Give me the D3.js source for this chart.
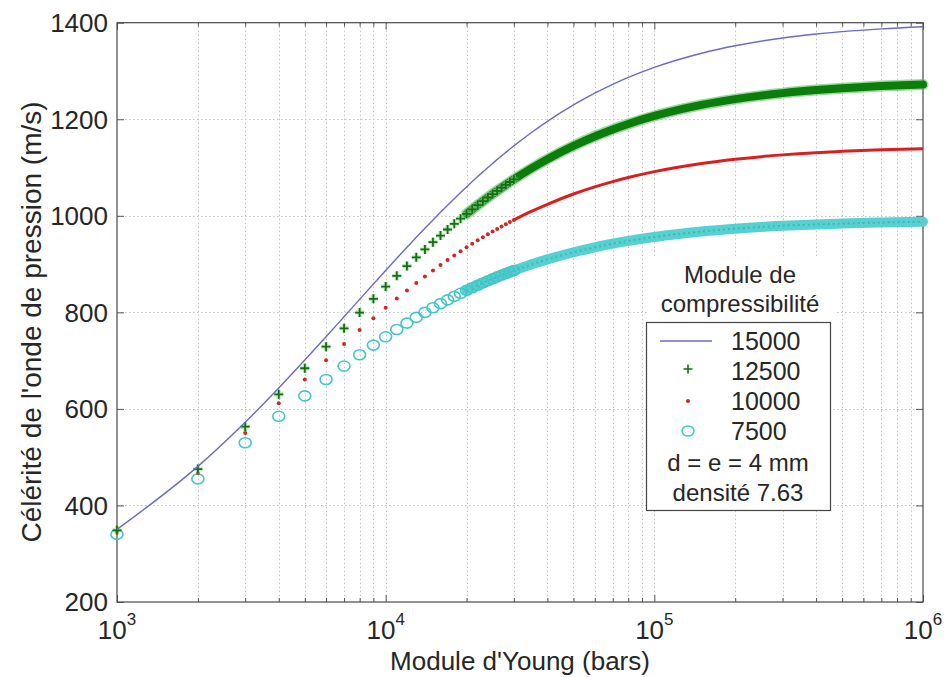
<!DOCTYPE html>
<html>
<head>
<meta charset="utf-8">
<script src="https://cdn.jsdelivr.net/npm/d3@7"></script>
<style>
  html, body { margin: 0; padding: 0; background: #fff; }
  svg { display: block; }
  text { font-family: "Liberation Sans", Arial, Helvetica, sans-serif; fill: #262626; }
</style>
</head>
<body>
<svg id="chart" width="949" height="677"></svg>
<script>
// Young's modulus of the pipe wall (bars)
const youngModulus = [
  1000, 2000, 3000, 4000, 5000, 6000, 7000, 8000, 9000, 10000,
  11000, 12000, 13000, 14000, 15000, 16000, 17000, 18000, 19000, 20000,
  21000, 22000, 23000, 24000, 25000, 26000, 27000, 28000, 29000, 30000,
  35000, 40000, 50000, 60000, 70000, 80000, 100000, 150000, 200000, 300000,
  400000, 500000, 700000, 1000000
];

// Pressure-wave celerity (m/s) for each fluid bulk modulus (bars)
const celerity15000 = [
  350.5, 480.9, 572.4, 643.3, 701.1, 749.4, 790.9, 826.9, 858.6, 886.8,
  912.0, 934.7, 955.4, 974.2, 991.4, 1007.3, 1021.9, 1035.5, 1048.1, 1059.9,
  1070.9, 1081.2, 1090.8, 1099.9, 1108.5, 1116.5, 1124.2, 1131.4, 1138.3, 1144.8,
  1173.1, 1195.7, 1229.7, 1254.1, 1272.4, 1286.7, 1307.5, 1336.8, 1352.3, 1368.3,
  1376.5, 1381.5, 1387.3, 1391.7
];
const celerity12500 = [
  348.4, 475.4, 563.1, 630.2, 684.2, 728.9, 766.9, 799.6, 828.1, 853.3,
  875.7, 895.8, 913.9, 930.3, 945.3, 959.0, 971.6, 983.3, 994.1, 1004.1,
  1013.4, 1022.1, 1030.2, 1037.9, 1045.1, 1051.8, 1058.2, 1064.3, 1070.0, 1075.4,
  1098.7, 1117.2, 1144.8, 1164.4, 1179.0, 1190.3, 1206.8, 1229.8, 1241.7, 1254.1,
  1260.4, 1264.2, 1268.7, 1272.0
];
const celerity10000 = [
  345.2, 467.4, 549.9, 611.9, 661.0, 701.0, 734.6, 763.2, 787.9, 809.5,
  828.5, 845.5, 860.7, 874.4, 886.8, 898.0, 908.4, 917.9, 926.6, 934.7,
  942.2, 949.2, 955.7, 961.8, 967.5, 972.9, 977.9, 982.7, 987.2, 991.4,
  1009.6, 1023.9, 1045.1, 1059.9, 1070.9, 1079.3, 1091.5, 1108.4, 1117.2, 1126.2,
  1130.8, 1133.5, 1136.7, 1139.1
];
const celerity7500 = [
  340.0, 454.9, 529.9, 584.7, 627.0, 660.9, 688.8, 712.2, 732.2, 749.4,
  764.5, 777.7, 789.5, 800.0, 809.5, 818.0, 825.8, 833.0, 839.5, 845.5,
  851.0, 856.1, 860.9, 865.4, 869.5, 873.4, 877.0, 880.5, 883.7, 886.7,
  899.7, 909.8, 924.5, 934.7, 942.2, 948.0, 956.2, 967.5, 973.3, 979.2,
  982.2, 984.0, 986.1, 987.7
];

const bulkModulusLabels = ["15000", "12500", "10000", "7500"];
const legendTitle = ["Module de", "compressibilité"];
const legendNotes = ["d = e = 4 mm", "densité 7.63"];
const xMajorTicks = [1e3, 1e4, 1e5, 1e6];
const xTickExponents = ["3", "4", "5", "6"];
const yTicks = [200, 400, 600, 800, 1000, 1200, 1400];
const xTitle = "Module d'Young (bars)";
const yTitle = "Célérité de l'onde de pression (m/s)";

const svg = d3.select("#chart");
const plotLeft = 117, plotRight = 923, plotTop = 22.7, plotBottom = 602;

const x = d3.scaleLog().domain([1e3, 1e6]).range([plotLeft, plotRight]);
const y = d3.scaleLinear().domain([200, 1400]).range([plotBottom, plotTop]);

// minor log ticks 2..9 in every decade
const xMinorTicks = [];
for (let d = 1e3; d < 1e6; d *= 10) {
  for (let k = 2; k <= 9; k++) xMinorTicks.push(d * k);
}

// ---- grid ----
const grid = svg.append("g").attr("class", "grid")
  .attr("stroke", "#c4c4c4").attr("stroke-width", 1).attr("stroke-dasharray", "1.5,2.5");
grid.selectAll("line.vx").data(xMinorTicks.concat(xMajorTicks.slice(1, 3))).join("line")
  .attr("x1", d => Math.round(x(d)) + 0.5).attr("x2", d => Math.round(x(d)) + 0.5)
  .attr("y1", plotTop).attr("y2", plotBottom);
grid.selectAll("line.hy").data(yTicks.slice(1, -1)).join("line")
  .attr("y1", d => Math.round(y(d)) + 0.5).attr("y2", d => Math.round(y(d)) + 0.5)
  .attr("x1", plotLeft).attr("x2", plotRight);

// ---- axes (inward ticks, MATLAB style) ----
function styleAxis(g) {
  g.select(".domain").remove();
  g.selectAll(".tick line").attr("stroke", "#555");
  g.selectAll(".tick text").remove();
}
svg.append("g").attr("transform", `translate(0,${plotBottom})`)
  .call(d3.axisBottom(x).tickValues(xMajorTicks).tickSize(-7).tickFormat("")).call(styleAxis);
svg.append("g").attr("transform", `translate(0,${plotBottom})`)
  .call(d3.axisBottom(x).tickValues(xMinorTicks).tickSize(-4).tickFormat("")).call(styleAxis);
svg.append("g").attr("transform", `translate(0,${plotTop})`)
  .call(d3.axisTop(x).tickValues(xMajorTicks).tickSize(-7).tickFormat("")).call(styleAxis);
svg.append("g").attr("transform", `translate(0,${plotTop})`)
  .call(d3.axisTop(x).tickValues(xMinorTicks).tickSize(-4).tickFormat("")).call(styleAxis);
svg.append("g").attr("transform", `translate(${plotLeft},0)`)
  .call(d3.axisLeft(y).tickValues(yTicks).tickSize(-7).tickFormat("")).call(styleAxis);
svg.append("g").attr("transform", `translate(${plotRight},0)`)
  .call(d3.axisRight(y).tickValues(yTicks).tickSize(-7).tickFormat("")).call(styleAxis);

// frame
svg.append("rect").attr("x", plotLeft).attr("y", plotTop)
  .attr("width", plotRight - plotLeft).attr("height", plotBottom - plotTop)
  .attr("fill", "none").attr("stroke", "#4a4a4a").attr("stroke-width", 1.2);

// tick labels
svg.append("g").selectAll("text").data(yTicks).join("text")
  .attr("x", plotLeft - 9).attr("y", d => y(d)).attr("dy", "0.36em")
  .attr("text-anchor", "end").attr("font-size", 26).text(d => d);

const xLab = svg.append("g").selectAll("text").data(xMajorTicks).join("text")
  .attr("x", d => x(d)).attr("y", plotBottom + 37).attr("text-anchor", "middle");
xLab.append("tspan").attr("font-size", 26).text("10");
xLab.append("tspan").attr("font-size", 17).attr("dy", -14).text((d, i) => xTickExponents[i]);

// axis titles
svg.append("text").attr("x", (plotLeft + plotRight) / 2).attr("y", 670)
  .attr("text-anchor", "middle").attr("font-size", 26).text(xTitle);
svg.append("text").attr("transform", `translate(41,322) rotate(-90)`)
  .attr("text-anchor", "middle").attr("font-size", 28).text(yTitle);

// ---- data ----
const data = youngModulus.map((e, i) => ({
  e, c15000: celerity15000[i], c12500: celerity12500[i],
  c10000: celerity10000[i], c7500: celerity7500[i]
}));
const sparse = data.filter(d => d.e <= 30000);   // individually visible markers
const dense = data.filter(d => d.e >= 20000);    // markers merge into a band
const denseRed = data.filter(d => d.e >= 30000);

const plot = svg.append("g");
const lineFor = key => d3.line().x(d => x(d.e)).y(d => y(d[key])).curve(d3.curveMonotoneX);

// 7500 : cyan circles
plot.append("path").datum(dense).attr("d", lineFor("c7500"))
  .attr("fill", "none").attr("stroke", "#56d0d0").attr("stroke-width", 10).attr("stroke-linecap", "round");
plot.append("path").datum(dense).attr("d", lineFor("c7500"))
  .attr("fill", "none").attr("stroke", "#2fb0b0").attr("stroke-width", 2).attr("stroke-dasharray", "2,3").attr("opacity", 0.7);
plot.append("g").selectAll("ellipse").data(sparse).join("ellipse")
  .attr("cx", d => x(d.e)).attr("cy", d => y(d.c7500)).attr("rx", 6).attr("ry", 5)
  .attr("fill", "none").attr("stroke", "#45c6c6").attr("stroke-width", 1.6);

// 10000 : red dots
plot.append("path").datum(denseRed).attr("d", lineFor("c10000"))
  .attr("fill", "none").attr("stroke", "#dc1e1e").attr("stroke-width", 3);
plot.append("g").selectAll("circle").data(sparse).join("circle")
  .attr("cx", d => x(d.e)).attr("cy", d => y(d.c10000)).attr("r", 2)
  .attr("fill", "#d42424");

// 12500 : green plus markers
plot.append("path").datum(dense).attr("d", lineFor("c12500"))
  .attr("fill", "none").attr("stroke", "#5cbf5c").attr("stroke-width", 11).attr("stroke-linecap", "round").attr("opacity", 0.6);
plot.append("path").datum(dense).attr("d", lineFor("c12500"))
  .attr("fill", "none").attr("stroke", "#0b7d0b").attr("stroke-width", 8).attr("stroke-linecap", "round");
const plus = "M-4.5,0H4.5M0,-4.5V4.5";
plot.append("g").selectAll("path").data(sparse).join("path")
  .attr("transform", d => `translate(${x(d.e)},${y(d.c12500)})`)
  .attr("d", plus).attr("stroke", "#8fd88f").attr("stroke-width", 4).attr("opacity", 0.6);
plot.append("g").selectAll("path").data(sparse).join("path")
  .attr("transform", d => `translate(${x(d.e)},${y(d.c12500)})`)
  .attr("d", plus).attr("stroke", "#146e14").attr("stroke-width", 1.8);

// 15000 : blue line
plot.append("path").datum(data).attr("d", lineFor("c15000"))
  .attr("fill", "none").attr("stroke", "#6a6ac8").attr("stroke-width", 1.4);

// ---- legend ----
const lg = svg.append("g");
lg.append("rect").attr("x", 648).attr("y", 256).attr("width", 188).attr("height", 64).attr("fill", "#fff");
lg.selectAll("text.title").data(legendTitle).join("text")
  .attr("x", 740).attr("y", (d, i) => 283 + i * 29).attr("text-anchor", "middle")
  .attr("font-size", 24).text(d => d);
lg.append("rect").attr("x", 646.5).attr("y", 322.5).attr("width", 184).attr("height", 188)
  .attr("fill", "#fff").attr("stroke", "#444").attr("stroke-width", 1.2);

const rowY = [341, 371, 401, 431];
lg.selectAll("text.num").data(bulkModulusLabels).join("text")
  .attr("x", 731).attr("y", (d, i) => rowY[i]).attr("dy", "0.36em")
  .attr("font-size", 25).text(d => d);
lg.append("line").attr("x1", 660).attr("x2", 712).attr("y1", rowY[0]).attr("y2", rowY[0])
  .attr("stroke", "#6a6ac8").attr("stroke-width", 1.4);
lg.append("path").attr("transform", `translate(688,${rowY[1] - 2})`).attr("d", plus)
  .attr("stroke", "#146e14").attr("stroke-width", 1.6);
lg.append("circle").attr("cx", 688).attr("cy", rowY[2]).attr("r", 2).attr("fill", "#d42424");
lg.append("ellipse").attr("cx", 688).attr("cy", rowY[3]).attr("rx", 6).attr("ry", 5)
  .attr("fill", "none").attr("stroke", "#45c6c6").attr("stroke-width", 1.6);
lg.selectAll("text.note").data(legendNotes).join("text")
  .attr("x", 738).attr("y", (d, i) => 471 + i * 30).attr("text-anchor", "middle")
  .attr("font-size", 24).text(d => d);
</script>
</body>
</html>
